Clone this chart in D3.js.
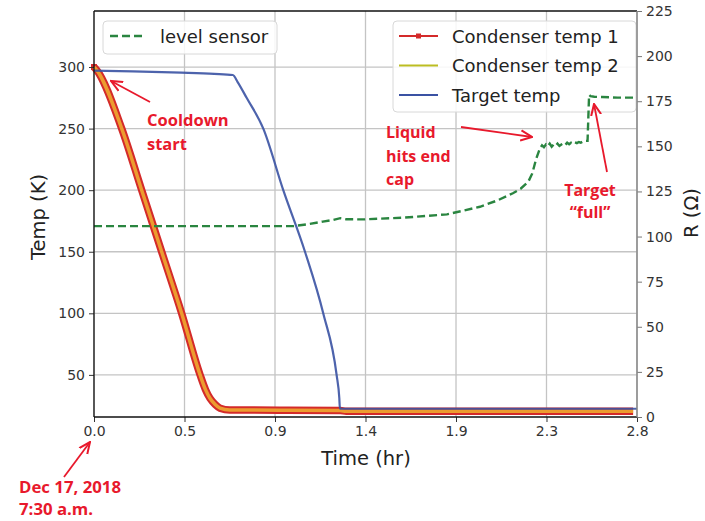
<!DOCTYPE html>
<html><head><meta charset="utf-8">
<script src="https://cdn.jsdelivr.net/npm/d3@7"></script>
<style>body{margin:0;background:#fff}svg{display:block}</style>
</head><body><svg id="c" width="705" height="521"></svg>
<script>
// ---------- data ----------
const xTickValues = [0, 0.4667, 0.9333, 1.4, 1.8667, 2.3333, 2.8];
const xTickLabels = ["0.0", "0.5", "0.9", "1.4", "1.9", "2.3", "2.8"];
const yLeftTicks = [50, 100, 150, 200, 250, 300];
const yRightTicks = [0, 25, 50, 75, 100, 125, 150, 175, 200, 225];

const cond1Time = [0, 0.014, 0.143, 0.246, 0.349, 0.452, 0.547, 0.575, 0.598, 0.625, 0.65, 0.70, 0.8, 1.0, 1.27, 1.3, 1.6, 2.0, 2.4, 2.78];
const cond1Temp = [300, 297.5, 250, 200, 150, 100, 50, 38, 31, 26, 23, 21.5, 21.5, 21.3, 21, 20.5, 20.5, 20.5, 20.5, 20.5];
const cond2Time = [0, 0.014, 0.143, 0.246, 0.349, 0.452, 0.547, 0.575, 0.598, 0.625, 0.65, 0.70, 0.8, 1.0, 1.27, 1.3, 1.6, 2.0, 2.4, 2.78];
const cond2Temp = [300, 297.5, 250, 200, 150, 100, 50, 38, 31, 26, 23, 21.5, 21.5, 21.3, 21, 20.5, 20.5, 20.5, 20.5, 20.5];

const targetTime = [0, 0.2, 0.45, 0.62, 0.716, 0.74, 0.787, 0.873, 0.976, 1.088, 1.182, 1.251, 1.265, 1.268, 1.5, 2.0, 2.5, 2.8];
const targetTemp = [297, 296.5, 295.5, 294.5, 293.5, 288, 275, 250, 200, 150, 100, 50, 31, 22.5, 22.5, 22.5, 22.5, 22.5];

const levelTime = [0, 0.5, 1.03, 1.10, 1.18, 1.234, 1.27, 1.30, 1.39, 1.6, 1.82, 1.99, 2.08, 2.16, 2.20, 2.24, 2.26, 2.28, 2.30,
  2.31, 2.32, 2.33, 2.34, 2.35, 2.36, 2.37, 2.38, 2.39, 2.40, 2.41, 2.42, 2.43, 2.44, 2.45, 2.46, 2.47, 2.48, 2.49, 2.50, 2.51, 2.52, 2.53, 2.545,
  2.553, 2.56, 2.58, 2.62, 2.70, 2.78];
const levelR = [105.8, 105.8, 105.8, 106.8, 108.3, 109.2, 110.2, 109.6, 109.5, 110.5, 112.3, 116.5, 120, 124, 126.5, 130.5, 135, 143, 149,
  150.5, 149.5, 151, 150, 151.5, 149.8, 151, 150.3, 151.5, 150.2, 151, 151.6, 150.8, 152, 151.2, 152, 151.4, 152.2, 151.8, 152.4, 152, 152.6, 153, 153,
  178.5, 177.8, 177.5, 177.3, 177, 177];

const legend1 = ["level sensor"];
const legend2 = ["Condenser temp 1", "Condenser temp 2", "Target temp"];

// ---------- layout ----------
const svg = d3.select("#c");
const L = 94, R = 637, T = 11, B = 417;
const x = d3.scaleLinear().domain([0, 2.8]).range([L, R]);
const yL = d3.scaleLinear().domain([15.8, 345.5]).range([B, T]);
const yR = d3.scaleLinear().domain([0, 225]).range([B, T]);

const red = "#d42a2a", olive = "#bcbd22", blue = "#3a52a3", green = "#2a8540", annot = "#e8192c";

// grid
const g = svg.append("g");
g.selectAll(".vg").data(xTickValues).join("line")
  .attr("x1", d => x(d)).attr("x2", d => x(d)).attr("y1", T).attr("y2", B)
  .attr("stroke", "#c4c4c4").attr("stroke-width", 1.3);
g.selectAll(".hg").data(yLeftTicks).join("line")
  .attr("x1", L).attr("x2", R).attr("y1", d => yL(d)).attr("y2", d => yL(d))
  .attr("stroke", "#c4c4c4").attr("stroke-width", 1.3);

// series (left axis)
const line = (xs, ys, sy) => d3.line().x((d, i) => x(xs[i])).y((d, i) => sy(ys[i]));
svg.append("path").datum(cond1Temp).attr("d", line(cond1Time, cond1Temp, yL).curve(d3.curveMonotoneX))
  .attr("fill", "none").attr("stroke", red).attr("stroke-width", 7.5).attr("stroke-linejoin", "round");
svg.append("rect").attr("x", x(0) - 3).attr("y", yL(300) - 3).attr("width", 6).attr("height", 6).attr("fill", red);
svg.append("path").datum(cond2Temp).attr("d", line(cond2Time, cond2Temp, yL).curve(d3.curveMonotoneX))
  .attr("fill", "none").attr("stroke", "#f0b030").attr("stroke-opacity", 0.85).attr("stroke-width", 3.5).attr("stroke-linejoin", "round");
svg.append("path").datum(targetTemp).attr("d", line(targetTime, targetTemp, yL).curve(d3.curveMonotoneX))
  .attr("fill", "none").attr("stroke", blue).attr("stroke-width", 2.2).attr("stroke-opacity", 0.9);

const fontTick = "DejaVu Sans, sans-serif";

// legend of left axis (below twin-axis line)
const lg2 = svg.append("g");
lg2.append("rect").attr("x", 393).attr("y", 21).attr("width", 243).attr("height", 91).attr("rx", 4)
  .attr("fill", "#fff").attr("fill-opacity", 0.85).attr("stroke", "#d8d8d8");
const lgColors = [red, olive, blue];
legend2.forEach((name, i) => {
  const yy = 36 + i * 29.5;
  lg2.append("line").attr("x1", 399).attr("x2", 438).attr("y1", yy).attr("y2", yy)
    .attr("stroke", lgColors[i]).attr("stroke-width", 2.2);
  if (i === 0) lg2.append("rect").attr("x", 416).attr("y", yy - 2.5).attr("width", 5).attr("height", 5).attr("fill", red);
  lg2.append("text").text(name).attr("x", 452).attr("y", yy + 6.5).attr("font-family", fontTick).attr("font-size", 18).attr("fill", "#222");
});

// series (right axis)
svg.append("path").datum(levelR).attr("d", line(levelTime, levelR, yR))
  .attr("fill", "none").attr("stroke", green).attr("stroke-width", 2.4).attr("stroke-dasharray", "8,4");

// axes
const ax = svg.append("g").attr("transform", `translate(0,${B})`)
  .call(d3.axisBottom(x).tickValues(xTickValues).tickFormat((d, i) => xTickLabels[i]).tickSize(5).tickPadding(4));
const ayl = svg.append("g").attr("transform", `translate(${L},0)`)
  .call(d3.axisLeft(yL).tickValues(yLeftTicks).tickSize(5).tickPadding(4));
const ayr = svg.append("g").attr("transform", `translate(${R},0)`)
  .call(d3.axisRight(yR).tickValues(yRightTicks).tickSize(5).tickPadding(4));
[ax, ayl, ayr].forEach(a => {
  a.select(".domain").remove();
  a.selectAll("text").attr("font-family", fontTick).attr("font-size", 14).attr("fill", "#333");
  a.selectAll("line").attr("stroke", "#333").attr("stroke-width", 1);
});
ayr.selectAll("line").attr("stroke", "#777");
// spines
svg.append("line").attr("x1", L).attr("x2", R).attr("y1", T).attr("y2", T).attr("stroke", "#111").attr("stroke-width", 1.3);
svg.append("line").attr("x1", L).attr("x2", R).attr("y1", B).attr("y2", B).attr("stroke", "#111").attr("stroke-width", 1.3);
svg.append("line").attr("x1", L).attr("x2", L).attr("y1", T).attr("y2", B).attr("stroke", "#111").attr("stroke-width", 1.3);
svg.append("line").attr("x1", R).attr("x2", R).attr("y1", T).attr("y2", B).attr("stroke", "#888").attr("stroke-width", 1.5);

// axis labels
svg.append("text").text("Time (hr)").attr("x", 366).attr("y", 465).attr("text-anchor", "middle")
  .attr("font-family", fontTick).attr("font-size", 19.5).attr("fill", "#222");
svg.append("text").text("Temp (K)").attr("transform", "translate(45,217) rotate(-90)").attr("text-anchor", "middle")
  .attr("font-family", fontTick).attr("font-size", 19.5).attr("fill", "#222");
svg.append("text").text("R (Ω)").attr("transform", "translate(698,213) rotate(-90)").attr("text-anchor", "middle")
  .attr("font-family", fontTick).attr("font-size", 19.5).attr("fill", "#222");

// legend of right axis
const lg1 = svg.append("g");
lg1.append("rect").attr("x", 103).attr("y", 21).attr("width", 174).attr("height", 33).attr("rx", 4)
  .attr("fill", "#fff").attr("fill-opacity", 0.85).attr("stroke", "#d8d8d8");
lg1.append("line").attr("x1", 110).attr("x2", 144).attr("y1", 36).attr("y2", 36)
  .attr("stroke", green).attr("stroke-width", 2.4).attr("stroke-dasharray", "8,4");
lg1.append("text").text(legend1[0]).attr("x", 160).attr("y", 42.5).attr("font-family", fontTick).attr("font-size", 18).attr("fill", "#222");

// annotations
const afont = "'Open Sans', sans-serif";
const defs = svg.append("defs");
defs.append("marker").attr("id", "ah").attr("viewBox", "0 0 10 10").attr("refX", 9).attr("refY", 5)
  .attr("markerWidth", 7).attr("markerHeight", 7).attr("orient", "auto-start-reverse")
  .append("path").attr("d", "M0,1 L9,5 L0,9").attr("fill", "none").attr("stroke", annot).attr("stroke-width", 1.6);
const arrow = (x1, y1, x2, y2) => svg.append("line").attr("x1", x1).attr("y1", y1).attr("x2", x2).attr("y2", y2)
  .attr("stroke", annot).attr("stroke-width", 1.8).attr("marker-end", "url(#ah)");
const label = (lines, xx, yy, anchor, dy, fs) => {
  const t = svg.append("text").attr("font-family", afont).attr("font-weight", "bold").attr("font-size", fs || 16)
    .attr("fill", annot).attr("text-anchor", anchor);
  lines.forEach((s, i) => t.append("tspan").attr("x", xx).attr("y", yy + i * dy).text(s));
};
arrow(150, 102, 111, 81);
label(["Cooldown", "start"], 147, 126, "start", 24, 16.5);
arrow(461, 127, 532, 137);
label(["Liquid", "hits end", "cap"], 386, 138, "start", 23.5);
arrow(607, 172, 594, 104);
label(["Target", "\u201cfull\u201d"], 590, 196, "middle", 22);
arrow(64, 477, 90, 442);
label(["Dec 17, 2018", "7:30 a.m."], 19, 493, "start", 22, 16.8);
</script></body></html>
